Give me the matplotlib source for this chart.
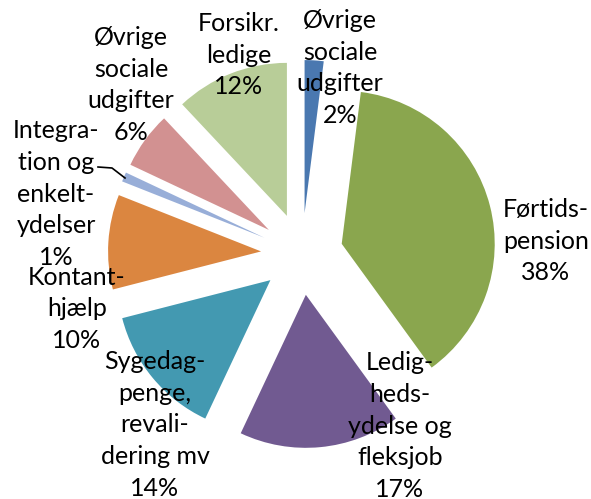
import matplotlib
matplotlib.use("Agg")
import matplotlib.pyplot as plt

labels = ["Øvrige\nsociale\nudgifter\n2%",
          "Førtids-\npension\n38%",
          "Ledig-\nheds-\nydelse og\nfleksjob\n17%",
          "Sygedag-\npenge,\nrevali-\ndering mv\n14%",
          "Kontant-\nhjælp\n10%",
          "Integra-\ntion og\nenkelt-\nydelser\n1%",
          "Øvrige\nsociale\nudgifter\n6%",
          "Forsikr.\nledige\n12%"]
values = [2, 38, 17, 14, 10, 1, 6, 12]
colors = ["#4A78B0", "#8AA64E", "#715A91", "#4399B1", "#DB8640",
          "#98AED8", "#D29191", "#B8CD98"]

W, H = 591, 499
fig = plt.figure(figsize=(W / 100, H / 100), dpi=100)
ax = fig.add_axes([0, 0, 1, 1])

center = (302, H - 254)
radius = 153
explode_dist = 41

ax.pie(values, colors=colors, startangle=90, counterclock=False,
       center=center, radius=radius, explode=[explode_dist] * len(values),
       wedgeprops=dict(linewidth=0), frame=True)
ax.set_xlim(0, W)
ax.set_ylim(0, H)
ax.set_aspect("equal")
ax.axis("off")

# label anchor positions in pixel coords (x, y from top)
label_pos = [(340, 68), (546, 241), (400, 426), (155, 425),
             (77, 309), (56, 194), (131, 85), (239, 55)]
for txt, (x, y) in zip(labels, label_pos):
    ax.text(x, H - y, txt, ha="center", va="center", fontsize=18,
            family=["Lato", "DejaVu Sans"], linespacing=1.45, color="#000000")

# leader line for the 1% slice
ax.plot([98, 112, 125], [H - 167, H - 168, H - 178], color="black", lw=1.2)

fig.savefig("out.png", dpi=100)
